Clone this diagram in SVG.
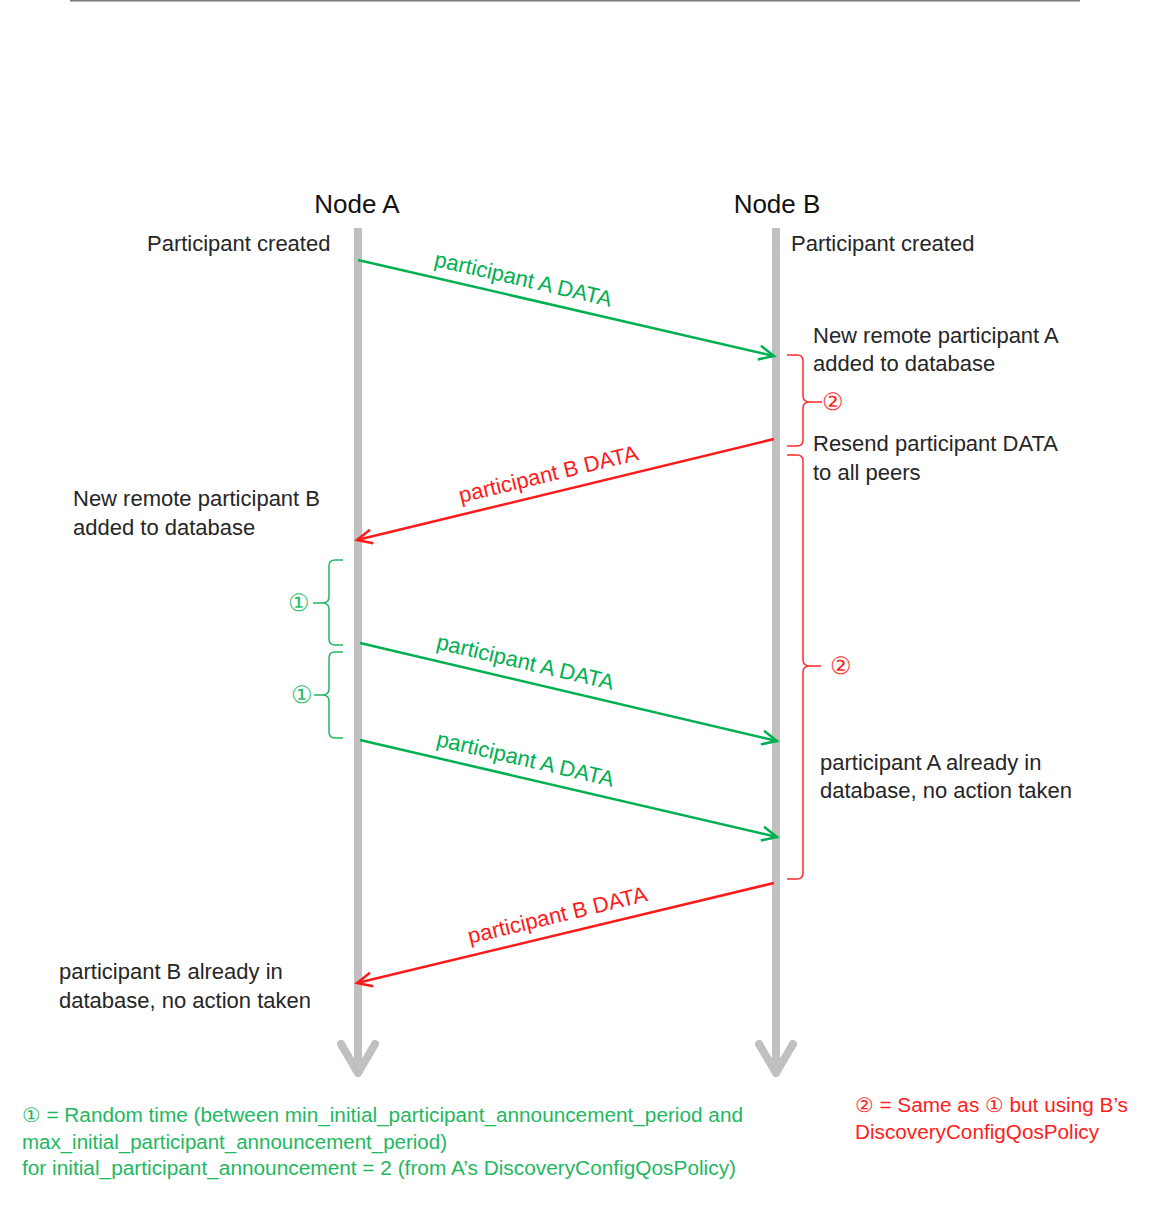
<svg xmlns="http://www.w3.org/2000/svg" width="1153" height="1213" viewBox="0 0 1153 1213">
<defs>
<style>
text{font-family:"Liberation Sans",Arial,sans-serif;}
.t{font-size:22px;fill:#262626;}
.node{font-size:26px;fill:#111;}
.life{stroke:#c0c0c0;stroke-width:8;fill:none;}
.lifehead{stroke:#c0c0c0;stroke-width:8;fill:none;stroke-linecap:round;stroke-linejoin:round;}
.g{stroke:#00b050;stroke-width:2.5;fill:none;}
.r{stroke:#ff1a1a;stroke-width:2.5;fill:none;}
.gb{stroke:#1fb860;stroke-width:1.5;fill:none;}
.rb{stroke:#ff2a2a;stroke-width:1.5;fill:none;}
.gl{font-size:22px;fill:#00b050;}
.rl{font-size:22px;fill:#ff1a1a;}
.gc{font-size:24px;fill:#2cc06a;}
.rc{font-size:24px;fill:#ff2a2a;}
.gf{font-size:20px;fill:#1fb860;}
.rf{font-size:20px;fill:#ff2020;}
</style>
<marker id="ag" markerUnits="userSpaceOnUse" markerWidth="20" markerHeight="20" viewBox="-16 -10 20 20" refX="0" refY="0" orient="auto">
<path d="M-15,-7 L0,0 L-15,7" fill="none" stroke="#00b050" stroke-width="2.5"/>
</marker>
<marker id="ar" markerUnits="userSpaceOnUse" markerWidth="20" markerHeight="20" viewBox="-16 -10 20 20" refX="0" refY="0" orient="auto">
<path d="M-15,-7 L0,0 L-15,7" fill="none" stroke="#ff1a1a" stroke-width="2.5"/>
</marker>
</defs>
<rect width="1153" height="1213" fill="#fff"/>
<line x1="70" y1="0.5" x2="1080" y2="0.5" stroke="#777" stroke-width="2"/>

<g id="nodeA">
<text class="node" x="357" y="213" text-anchor="middle">Node A</text>
<line class="life" x1="358" y1="228" x2="358" y2="1072"/>
<path class="lifehead" d="M341,1044 L358,1073 L375,1044"/>
<text class="t" x="147" y="251">Participant created</text>
</g>
<g id="nodeB">
<text class="node" x="777" y="213" text-anchor="middle">Node B</text>
<line class="life" x1="776" y1="228" x2="776" y2="1072"/>
<path class="lifehead" d="M759,1044 L776,1073 L793,1044"/>
<text class="t" x="791" y="251">Participant created</text>
</g>

<g id="notes">
<text class="t" x="813" y="343">New remote participant A</text>
<text class="t" x="813" y="371">added to database</text>
<text class="t" x="813" y="451">Resend participant DATA</text>
<text class="t" x="813" y="480">to all peers</text>
<text class="t" x="73" y="506">New remote participant B</text>
<text class="t" x="73" y="535">added to database</text>
<text class="t" x="820" y="770">participant A already in</text>
<text class="t" x="820" y="798">database, no action taken</text>
<text class="t" x="59" y="979">participant B already in</text>
<text class="t" x="59" y="1008">database, no action taken</text>
</g>

<g id="braces">
<path class="rb" d="M787,355 L797,355 Q803,355 803,361 L803,396 Q803,402 810,402 L822,402 M810,402 Q803,402 803,408 L803,440 Q803,446 797,446 L787,446"/>
<text class="rc" x="833" y="410" text-anchor="middle">②</text>
<path class="rb" d="M787,455 L797,455 Q803,455 803,461 L803,660 Q803,666 810,666 L821,666 M810,666 Q803,666 803,672 L803,873 Q803,879 797,879 L787,879"/>
<text class="rc" x="841" y="674" text-anchor="middle">②</text>
<path class="gb" d="M343,560 L335,560 Q329,560 329,566 L329,597 Q329,603 322,603 L313,603 M322,603 Q329,603 329,609 L329,639 Q329,645 335,645 L343,645"/>
<text class="gc" x="299" y="611" text-anchor="middle">①</text>
<path class="gb" d="M343,652 L335,652 Q329,652 329,658 L329,689 Q329,695 322,695 L314,695 M322,695 Q329,695 329,701 L329,732 Q329,738 335,738 L343,738"/>
<text class="gc" x="302" y="703" text-anchor="middle">①</text>
</g>

<g id="connectors">
<line class="g" x1="358" y1="260" x2="774" y2="356" marker-end="url(#ag)"/>
<text class="gl" x="519" y="286" text-anchor="middle" transform="rotate(13.0 519 298)">participant A DATA</text>
<line class="r" x1="774" y1="439" x2="357" y2="540" marker-end="url(#ar)"/>
<text class="rl" x="553" y="481" text-anchor="middle" transform="rotate(-13.6 553 493)">participant B DATA</text>
<line class="g" x1="360" y1="643" x2="777" y2="741" marker-end="url(#ag)"/>
<text class="gl" x="521" y="669" text-anchor="middle" transform="rotate(13.2 521 681)">participant A DATA</text>
<line class="g" x1="360" y1="740" x2="777" y2="837" marker-end="url(#ag)"/>
<text class="gl" x="521" y="766" text-anchor="middle" transform="rotate(13.1 521 778)">participant A DATA</text>
<line class="r" x1="774" y1="883" x2="357" y2="983" marker-end="url(#ar)"/>
<text class="rl" x="562" y="922" text-anchor="middle" transform="rotate(-13.5 562 934)">participant B DATA</text>
</g>

<g id="legend">
<text class="gf" x="22" y="1122" textLength="721" lengthAdjust="spacingAndGlyphs">① = Random time (between min_initial_participant_announcement_period  and</text>
<text class="gf" x="22" y="1149" textLength="425" lengthAdjust="spacingAndGlyphs">max_initial_participant_announcement_period)</text>
<text class="gf" x="22" y="1175" textLength="714" lengthAdjust="spacingAndGlyphs">for initial_participant_announcement  = 2 (from A’s DiscoveryConfigQosPolicy)</text>
<text class="rf" x="855" y="1112" textLength="273" lengthAdjust="spacingAndGlyphs">② = Same as ① but using B’s</text>
<text class="rf" x="855" y="1139" textLength="244" lengthAdjust="spacingAndGlyphs">DiscoveryConfigQosPolicy</text>
</g>
</svg>
